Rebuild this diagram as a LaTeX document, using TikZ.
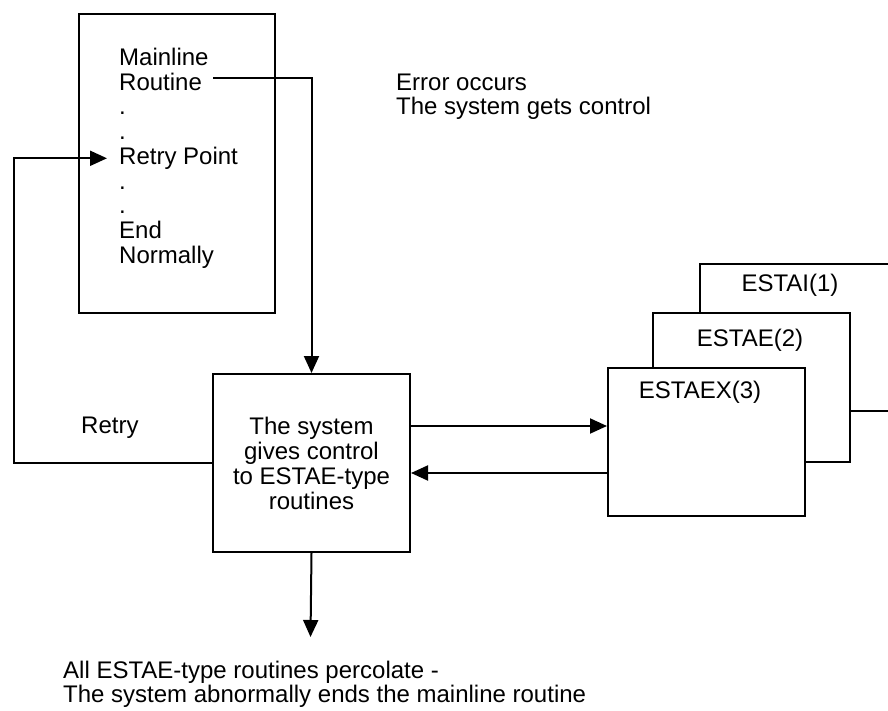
\documentclass[tikz,border=0pt]{standalone}
\usepackage{fontspec}
\setmainfont{Liberation Sans}
\usetikzlibrary{arrows.meta,calc}
\tikzset{flow/.style={line width=2pt,-{Triangle[length=17pt,width=15pt]}},
  box/.style={draw,line width=2pt,fill=white,minimum width=197pt,minimum height=148pt,inner sep=0pt},
  txt/.style={inner sep=0pt,font=\fontsize{24}{24.5}\selectfont}}

\begin{document}
\begin{tikzpicture}[x=1pt,y=-1pt]
          \useasboundingbox (0,0) rectangle (888,711);
          \clip (0,0) rectangle (888,711);

          \node (mainline) at (78,13) [box,anchor=north west,minimum width=196pt,minimum height=299pt] {};
          \foreach \txt [count=\k from 0] in {Mainline,Routine,.,.,Retry Point,.,.,End,Normally}
            \node (ml\k) at (119,65.5+24.75*\k) [txt,anchor=base west] {\txt};

          \node (err1) at (396,91) [txt,anchor=base west] {Error occurs};
          \node (err2) at (396,115) [txt,anchor=base west] {The system gets control};

          \node (sys) at (212,373) [box,anchor=north west,minimum height=178pt,align=center,
            font=\fontsize{24}{25}\selectfont] {The system\\gives control\\to ESTAE-type\\routines};
          \node (retry) at (81,433) [txt,anchor=base west] {Retry};

          \node (estai) at (699,263) [box,anchor=north west,minimum height=147pt] {};
          \node (estae) at (652,312) [box,anchor=north west,minimum height=149pt] {};
          \node (estaex) at (607,367) [box,anchor=north west] {};
          \node (estailbl) at (790,291.5) [txt,anchor=base] {ESTAI(1)};
          \node (estaelbl) at (750,346.5) [txt,anchor=base] {ESTAE(2)};
          \node (estaexlbl) at (700,398.5) [txt,anchor=base] {ESTAEX(3)};

          \node (percol1) at (63,678) [txt,anchor=base west] {All ESTAE-type routines percolate -};
          \node (percol2) at (63,702) [txt,anchor=base west] {The system abnormally ends the mainline routine};

          \coordinate (rail) at (14,0);
          \coordinate (abend) at (310.5,637);

          \draw[flow] ([xshift=11pt,yshift=4pt]ml1.east) -| (sys.north);
          \draw[flow,shorten >=12pt] (sys.west) -- (sys.west -| rail) |- (ml4.west);
          \draw[flow] ([yshift=37pt]sys.east) -- ([yshift=37pt]sys.east -| estaex.west);
          \draw[flow] ([yshift=-31pt]estaex.west) -- ([yshift=-31pt]estaex.west -| sys.east);
          \draw[flow] (sys.south) -- (abend);
\end{tikzpicture}
\end{document}
